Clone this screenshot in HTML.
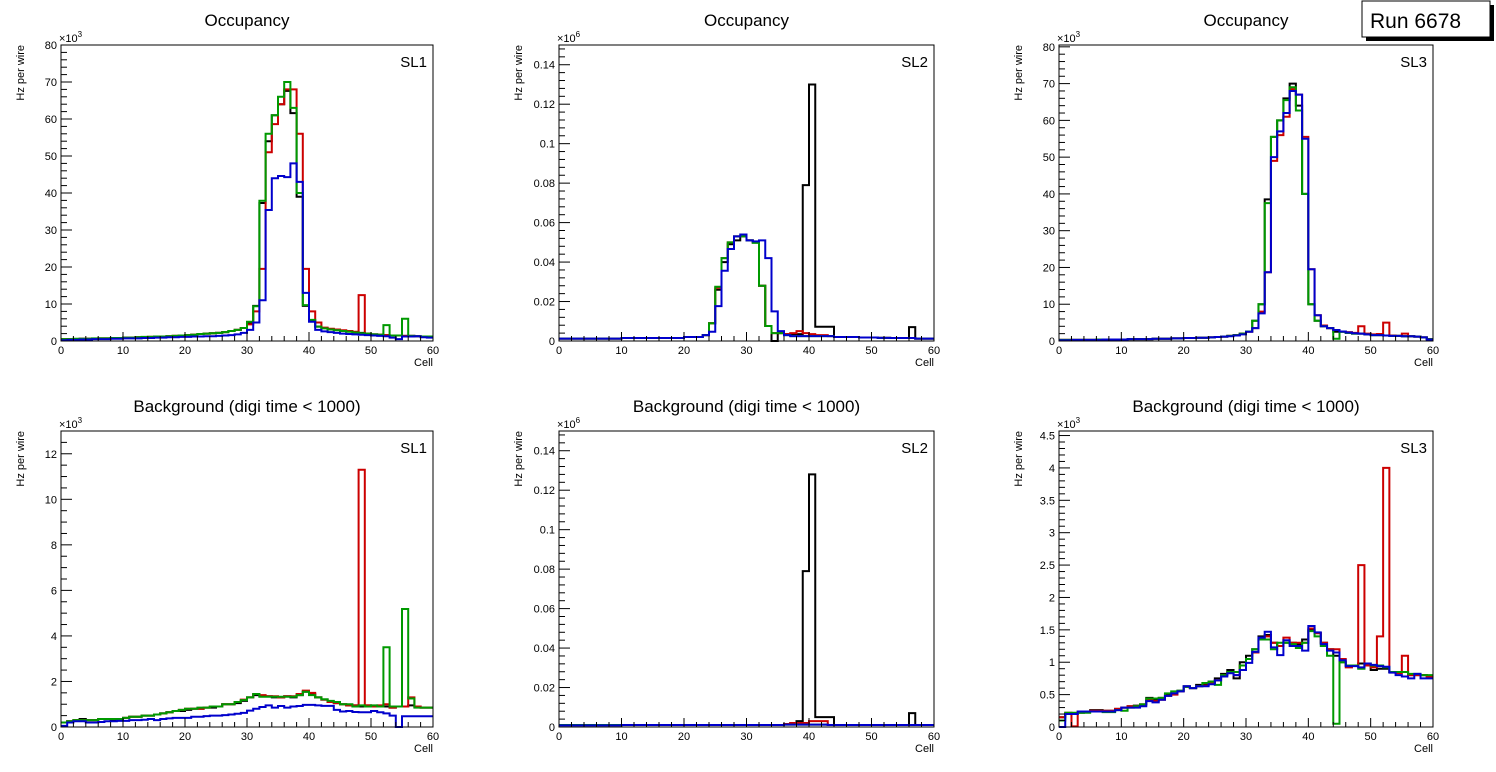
<!DOCTYPE html>
<html><head><meta charset="utf-8"><style>
body{margin:0;background:#fff;}
svg{display:block;font-family:"Liberation Sans",Arial,sans-serif;}
</style></head><body>
<svg id="c" width="1496" height="772" viewBox="0 0 1496 772">
<rect width="1496" height="772" fill="#fff"/>
<g>
<rect x="1366" y="5" width="128" height="36" fill="#000"/>
<rect x="1362" y="1" width="128" height="36" fill="#fff" stroke="#000" stroke-width="1"/>
<text x="1370" y="28" font-size="21">Run 6678</text>
</g>
</svg>
<script>
// ---- data: 60 bins per series (cells 0..59) ----
const tlBlack=[0.5,0.5,0.5,0.6,0.6,0.6,0.7,0.7,0.8,0.8,0.9,0.9,1.0,1.0,1.1,1.1,1.2,1.3,1.4,1.5,1.6,1.7,1.9,2.0,2.1,2.2,2.4,2.7,3.0,3.5,5.0,9.5,37.3,54,61,64,67.6,61.6,39,9.5,5.5,3.9,3.5,3.2,3.0,2.8,2.6,2.4,2.2,2.0,1.8,1.7,1.6,1.5,1.5,1.4,1.4,1.3,1.2,1.2];
const tlRed=[0.5,0.5,0.5,0.6,0.6,0.6,0.7,0.7,0.8,0.8,0.9,0.9,1.0,1.0,1.1,1.1,1.2,1.3,1.4,1.5,1.6,1.7,1.9,2.0,2.1,2.2,2.4,2.7,3.0,3.5,4.5,8,19.5,51,58.6,64,68,68,56,19.5,8,5,3.6,3.3,3.1,2.9,2.7,2.5,12.4,2.0,1.8,1.7,1.6,1.5,1.5,1.4,1.4,1.3,1.2,1.2];
const tlGreen=[0.5,0.5,0.6,0.6,0.6,0.7,0.7,0.7,0.8,0.8,0.9,0.9,1.0,1.1,1.1,1.2,1.2,1.3,1.4,1.5,1.6,1.7,1.9,2.0,2.1,2.2,2.4,2.7,3.0,3.5,5.2,9.4,37.9,56,61,66,70,63,40,9.7,5.7,3.9,3.4,3.1,2.9,2.7,2.5,2.3,2.1,2.0,1.8,1.7,4.3,1.5,1.5,6.0,1.4,1.3,1.2,1.2];
const tlBlue=[0.2,0.3,0.3,0.4,0.4,0.5,0.5,0.5,0.6,0.6,0.7,0.7,0.7,0.8,0.8,0.9,0.9,1.0,1.0,1.1,1.1,1.2,1.2,1.3,1.3,1.4,1.5,1.6,1.8,2.2,3.0,5.0,11,35.4,44,44.6,44.3,48,43,13,5.2,3.0,2.6,2.4,2.2,2.0,1.9,1.8,1.7,1.6,1.5,1.4,1.3,0.9,0.5,1.2,1.2,1.3,1.0,0.9];

const tmBlack=[0.0012,0.0012,0.0012,0.0012,0.0012,0.0012,0.0012,0.0012,0.0012,0.0012,0.0015,0.0015,0.0015,0.0015,0.0015,0.0015,0.0015,0.0015,0.0015,0.0015,0.002,0.002,0.002,0.003,0.009,0.026,0.040,0.049,0.051,0.053,0.051,0.050,0.028,0.0076,0,0.004,0.0035,0.0035,0.0035,0.079,0.130,0.0072,0.0072,0.0072,0.002,0.002,0.002,0.002,0.0018,0.0018,0.0018,0.0016,0.0016,0.0015,0.0015,0.0015,0.007,0.0012,0.0012,0.0012];
const tmRed=[0.0012,0.0012,0.0012,0.0012,0.0012,0.0012,0.0012,0.0012,0.0012,0.0012,0.0015,0.0015,0.0015,0.0015,0.0015,0.0015,0.0015,0.0015,0.0015,0.0015,0.002,0.002,0.002,0.003,0.009,0.027,0.042,0.050,0.053,0.053,0.051,0.050,0.028,0.0076,0.004,0.004,0.0035,0.004,0.005,0.004,0.0035,0.003,0.003,0.0025,0.002,0.002,0.002,0.002,0.0018,0.0018,0.0018,0.0016,0.0016,0.0015,0.0015,0.0015,0.0015,0.0012,0.0012,0.0012];
const tmGreen=[0.0012,0.0012,0.0012,0.0012,0.0012,0.0012,0.0012,0.0012,0.0012,0.0012,0.0015,0.0015,0.0015,0.0015,0.0015,0.0015,0.0015,0.0015,0.0015,0.0015,0.002,0.002,0.002,0.003,0.009,0.0275,0.042,0.050,0.053,0.053,0.051,0.0497,0.028,0.0076,0.004,0.004,0.003,0.0025,0.0025,0.0025,0.0025,0.0025,0.0025,0.0025,0.002,0.002,0.002,0.002,0.0018,0.0018,0.0018,0.0016,0.0016,0.0015,0.0015,0.0015,0.0015,0.0012,0.0012,0.0012];
const tmBlue=[0.0012,0.0012,0.0012,0.0012,0.0012,0.0012,0.0012,0.0012,0.0012,0.0012,0.0015,0.0015,0.0015,0.0015,0.0015,0.0015,0.0015,0.0015,0.0015,0.0015,0.002,0.002,0.002,0.003,0.0047,0.0177,0.0356,0.0466,0.053,0.054,0.051,0.0505,0.051,0.042,0.015,0.005,0.003,0.0025,0.0025,0.0025,0.0025,0.0025,0.0025,0.0025,0.002,0.002,0.002,0.002,0.0018,0.0018,0.0018,0.0016,0.0016,0.0015,0.0015,0.0015,0.0015,0.0012,0.0012,0.0012];

const trBlack=[0.3,0.3,0.3,0.3,0.3,0.3,0.4,0.4,0.4,0.4,0.4,0.5,0.5,0.5,0.5,0.6,0.6,0.6,0.7,0.7,0.8,0.8,0.9,0.9,1.0,1.1,1.2,1.4,1.6,2.0,2.6,5.5,10,38.5,55.5,60,66,70,64,40,10,5.5,4.0,3.5,2.5,2.5,2.2,2.0,2.0,1.8,1.6,1.6,1.5,1.4,1.4,1.3,1.3,1.2,1.0,0.5];
const trRed=[0.3,0.3,0.3,0.3,0.3,0.3,0.4,0.4,0.4,0.4,0.4,0.5,0.5,0.5,0.5,0.6,0.6,0.6,0.7,0.7,0.8,0.8,0.9,0.9,1.0,1.1,1.2,1.4,1.6,2.0,2.5,3.5,8,18.7,49,56,61,68.5,67,55.5,19.5,7,4.2,3.5,3,2.6,2.4,2.2,4,2.0,1.8,1.9,5,1.5,1.4,2,1.3,1.2,1.0,0.5];
const trGreen=[0.3,0.3,0.3,0.3,0.3,0.3,0.4,0.4,0.4,0.4,0.4,0.5,0.5,0.5,0.5,0.6,0.6,0.6,0.7,0.7,0.8,0.8,0.9,0.9,1.0,1.1,1.2,1.4,1.6,2.0,2.6,5.5,10,37.5,55.5,60,65.5,69,62.7,40,10,5.5,4.0,3.5,0.6,2.5,2.2,2.0,2.0,1.8,1.6,1.6,1.5,1.4,1.4,1.3,1.3,1.2,1.0,0.5];
const trBlue=[0.2,0.2,0.3,0.3,0.3,0.3,0.3,0.4,0.4,0.4,0.4,0.5,0.5,0.5,0.5,0.6,0.6,0.6,0.7,0.7,0.8,0.8,0.9,0.9,1.0,1.1,1.2,1.3,1.5,1.8,2.5,3.5,7.5,18.7,50,57,62,68,67,55,19.5,7,4,3.5,3,2.6,2.3,2.1,2.0,1.8,1.6,1.6,1.5,1.4,1.4,1.3,1.3,1.2,1.0,0.4];

const blBlack=[0.2,0.25,0.3,0.35,0.3,0.3,0.35,0.35,0.3,0.35,0.4,0.45,0.45,0.5,0.5,0.55,0.6,0.65,0.7,0.7,0.75,0.8,0.8,0.85,0.85,0.9,1.0,1.0,1.05,1.15,1.3,1.4,1.35,1.35,1.3,1.3,1.35,1.3,1.4,1.55,1.45,1.3,1.2,1.1,1.05,1.0,0.95,0.95,0.9,0.95,0.9,0.9,0.9,0.85,0.9,0.9,0.95,0.9,0.85,0.85];
const blRed=[0.2,0.25,0.3,0.3,0.3,0.3,0.35,0.35,0.35,0.35,0.4,0.45,0.45,0.5,0.5,0.55,0.6,0.65,0.7,0.75,0.8,0.8,0.8,0.85,0.9,0.9,1.0,1.0,1.1,1.2,1.3,1.45,1.4,1.35,1.35,1.3,1.35,1.35,1.45,1.6,1.5,1.3,1.2,1.1,1.05,1.0,0.95,0.95,11.3,0.95,0.9,0.95,1.0,0.85,0.9,0.9,1.3,0.9,0.85,0.85];
const blGreen=[0.2,0.25,0.3,0.3,0.3,0.3,0.35,0.35,0.35,0.35,0.4,0.45,0.45,0.5,0.5,0.55,0.6,0.65,0.7,0.75,0.8,0.8,0.85,0.85,0.9,0.9,1.0,1.0,1.1,1.18,1.3,1.45,1.33,1.33,1.33,1.33,1.33,1.33,1.4,1.55,1.4,1.3,1.22,1.15,1.1,1.0,1.0,0.9,0.95,0.9,0.95,0.9,3.5,0.9,0.9,5.18,1.25,0.85,0.85,0.85];
const blBlue=[0.05,0.2,0.25,0.25,0.2,0.2,0.22,0.25,0.25,0.27,0.27,0.3,0.3,0.32,0.35,0.3,0.35,0.38,0.4,0.4,0.4,0.45,0.45,0.48,0.5,0.5,0.52,0.55,0.58,0.62,0.72,0.8,0.88,0.95,0.85,0.92,0.85,0.9,0.92,0.97,0.97,0.95,0.93,0.93,0.75,0.68,0.7,0.66,0.65,0.65,0.7,0.65,0.6,0.5,0.0,0.47,0.47,0.47,0.47,0.47];

const bmBlack=[0.001,0.001,0.001,0.001,0.001,0.001,0.001,0.001,0.001,0.001,0.001,0.001,0.001,0.001,0.001,0.001,0.001,0.001,0.001,0.001,0.001,0.001,0.001,0.001,0.001,0.001,0.001,0.001,0.001,0.001,0.001,0.001,0.001,0.001,0.001,0.001,0.0015,0.002,0.003,0.079,0.128,0.005,0.005,0.005,0.001,0.001,0.001,0.001,0.001,0.001,0.001,0.001,0.001,0.001,0.001,0.001,0.007,0.001,0.001,0.001];
const bmRed=[0.001,0.001,0.001,0.001,0.001,0.001,0.001,0.001,0.001,0.001,0.001,0.001,0.001,0.001,0.001,0.001,0.001,0.001,0.001,0.001,0.001,0.001,0.001,0.001,0.001,0.001,0.001,0.001,0.001,0.001,0.001,0.001,0.001,0.001,0.001,0.001,0.0015,0.002,0.002,0.002,0.003,0.003,0.003,0.001,0.001,0.001,0.001,0.001,0.001,0.001,0.001,0.001,0.001,0.001,0.001,0.001,0.001,0.001,0.001,0.001];
const bmGreen=[0.001,0.001,0.001,0.001,0.001,0.001,0.001,0.001,0.001,0.001,0.001,0.001,0.001,0.001,0.001,0.001,0.001,0.001,0.001,0.001,0.001,0.001,0.001,0.001,0.001,0.001,0.001,0.001,0.001,0.001,0.001,0.001,0.001,0.001,0.001,0.001,0.0012,0.0012,0.0012,0.0012,0.0012,0.0012,0.0012,0.001,0.001,0.001,0.001,0.001,0.001,0.001,0.001,0.001,0.001,0.001,0.001,0.001,0.001,0.001,0.001,0.001];
const bmBlue=[0.0008,0.0008,0.0008,0.0008,0.0008,0.0008,0.0008,0.0008,0.0008,0.0008,0.001,0.001,0.001,0.001,0.001,0.001,0.001,0.001,0.001,0.001,0.001,0.001,0.001,0.001,0.001,0.001,0.001,0.001,0.001,0.001,0.001,0.001,0.001,0.001,0.001,0.001,0.0012,0.0012,0.0012,0.0012,0.0012,0.0012,0.0012,0.001,0.001,0.001,0.001,0.001,0.001,0.001,0.001,0.001,0.001,0.001,0.001,0.001,0.001,0.001,0.001,0.001];

const brBlack=[0.15,0.2,0.2,0.22,0.24,0.26,0.26,0.25,0.25,0.28,0.3,0.32,0.33,0.35,0.45,0.42,0.45,0.5,0.52,0.56,0.63,0.6,0.65,0.65,0.7,0.75,0.82,0.88,0.75,1.0,1.1,1.2,1.4,1.42,1.3,1.25,1.3,1.3,1.28,1.35,1.5,1.45,1.3,1.2,1.1,1.0,0.95,0.95,0.98,0.98,0.88,0.9,0.9,0.85,0.85,0.85,0.8,0.8,0.8,0.78];
const brRed=[0.15,0.22,0.01,0.24,0.24,0.25,0.25,0.25,0.25,0.28,0.3,0.32,0.32,0.35,0.42,0.4,0.42,0.48,0.5,0.55,0.62,0.6,0.63,0.64,0.68,0.72,0.8,0.85,0.8,0.95,1.05,1.15,1.35,1.4,1.3,1.25,1.38,1.3,1.3,1.3,1.52,1.45,1.3,1.2,1.2,1.05,0.92,0.95,2.5,0.95,0.92,1.4,4.0,0.85,0.83,1.1,0.8,0.8,0.8,0.78];
const brGreen=[0.1,0.22,0.22,0.22,0.22,0.24,0.24,0.23,0.23,0.26,0.25,0.3,0.32,0.35,0.44,0.44,0.45,0.52,0.55,0.56,0.62,0.6,0.63,0.68,0.7,0.65,0.8,0.85,0.85,0.95,1.05,1.2,1.35,1.35,1.2,1.3,1.3,1.28,1.22,1.3,1.48,1.4,1.25,1.1,0.05,1.0,0.95,0.95,0.9,0.98,0.95,0.95,0.92,0.85,0.85,0.85,0.82,0.82,0.8,0.8];
const brBlue=[0.0,0.2,0.2,0.24,0.24,0.24,0.24,0.24,0.24,0.26,0.3,0.3,0.3,0.32,0.4,0.38,0.42,0.48,0.52,0.55,0.63,0.6,0.63,0.63,0.66,0.72,0.78,0.83,0.8,0.88,0.99,1.16,1.38,1.47,1.23,1.11,1.34,1.25,1.25,1.18,1.56,1.46,1.28,1.18,1.15,1.03,0.94,0.94,0.92,0.98,0.96,0.94,0.93,0.84,0.8,0.78,0.75,0.82,0.75,0.75];

const xTicks=[0,10,20,30,40,50,60];
const colors=['#000000','#cc0000','#009900','#0000cc'];

const panels=[
 {name:'sl1-occupancy',title:'Occupancy',sl:'SL1',x0:61,x1:433,y0:45,y1:341,ymax:80,major:10,minor:2,exp:'×10',expSup:'3',labels:['0','10','20','30','40','50','60','70','80'],series:[tlBlack,tlRed,tlGreen,tlBlue]},
 {name:'sl2-occupancy',title:'Occupancy',sl:'SL2',x0:559,x1:934,y0:45,y1:341,ymax:0.15,major:0.02,minor:0.004,exp:'×10',expSup:'6',labels:['0','0.02','0.04','0.06','0.08','0.1','0.12','0.14'],series:[tmBlack,tmRed,tmGreen,tmBlue]},
 {name:'sl3-occupancy',title:'Occupancy',sl:'SL3',x0:1059,x1:1433,y0:45,y1:341,ymax:80.5,major:10,minor:2,exp:'×10',expSup:'3',labels:['0','10','20','30','40','50','60','70','80'],series:[trBlack,trRed,trGreen,trBlue]},
 {name:'sl1-background',title:'Background (digi time < 1000)',sl:'SL1',x0:61,x1:433,y0:431,y1:727,ymax:13,major:2,minor:0.5,exp:'×10',expSup:'3',labels:['0','2','4','6','8','10','12'],series:[blBlack,blRed,blGreen,blBlue]},
 {name:'sl2-background',title:'Background (digi time < 1000)',sl:'SL2',x0:559,x1:934,y0:431,y1:727,ymax:0.15,major:0.02,minor:0.004,exp:'×10',expSup:'6',labels:['0','0.02','0.04','0.06','0.08','0.1','0.12','0.14'],series:[bmBlack,bmRed,bmGreen,bmBlue]},
 {name:'sl3-background',title:'Background (digi time < 1000)',sl:'SL3',x0:1059,x1:1433,y0:431,y1:727,ymax:4.57,major:0.5,minor:0.1,exp:'×10',expSup:'3',labels:['0','0.5','1','1.5','2','2.5','3','3.5','4','4.5'],series:[brBlack,brRed,brGreen,brBlue]}
];
const NS='http://www.w3.org/2000/svg';
const svg=document.getElementById('c');
const runLabel=svg.lastElementChild;
function mk(tag,attrs,parent){const e=document.createElementNS(NS,tag);for(const k in attrs)e.setAttribute(k,attrs[k]);parent.appendChild(e);return e;}
const seriesNames=['series-black','series-red','series-green','series-blue'];
panels.forEach(p=>{
 const g=mk('g',{},svg);
 
 
 const X=v=>p.x0+(p.x1-p.x0)*v/60;
 const Y=v=>p.y1-(p.y1-p.y0)*Math.min(v,p.ymax)/p.ymax;
 const t=mk('text',{x:(p.x0+p.x1)/2,y:p.y0-19,'font-size':17,'text-anchor':'middle'},g);t.textContent=p.title;
 
 
 p.series.forEach((s,i)=>{
  let d='M'+X(0)+','+Y(s[0]);
  for(let b=0;b<s.length;b++){d+=' H'+X(b+1);if(b+1<s.length)d+=' V'+Y(s[b+1]);}
  const path=mk('path',{d:d,fill:'none',stroke:colors[i],'stroke-width':2,'stroke-linejoin':'miter'},g);
  
  
 });
 const fr=mk('rect',{x:p.x0,y:p.y0,width:p.x1-p.x0,height:p.y1-p.y0,fill:'none',stroke:'#000','stroke-width':1},g);
 
 
 for(let v=0;v<=60;v+=2){const big=v%10===0;mk('line',{x1:X(v),x2:X(v),y1:p.y1,y2:p.y1-(big?9:5),stroke:'#000','stroke-width':1},g);}
 xTicks.forEach(v=>{const tl=mk('text',{x:X(v),y:p.y1+13,'font-size':11,'text-anchor':'middle'},g);tl.textContent=String(v);
  
  });
 const xl=mk('text',{x:p.x1,y:p.y1+25,'font-size':11,'text-anchor':'end'},g);xl.textContent='Cell';
 
 
 const nMinor=Math.floor(p.ymax/p.minor+1e-6);
 for(let k=0;k<=nMinor;k++){const v=k*p.minor;const big=Math.abs(v/p.major-Math.round(v/p.major))<1e-6;mk('line',{x1:p.x0,x2:p.x0+(big?11:6),y1:Y(v),y2:Y(v),stroke:'#000','stroke-width':1},g);}
 p.labels.forEach((lab,k)=>{const yl=mk('text',{x:p.x0-4,y:Y(k*p.major)+4,'font-size':11,'text-anchor':'end'},g);yl.textContent=lab;
  
  });
 const ex=mk('text',{x:p.x0-2,y:p.y0-3,'font-size':11},g);ex.textContent=p.exp;
 
 
 const sup=mk('tspan',{dy:-5,'font-size':8},ex);sup.textContent=p.expSup;
 const yt=mk('text',{x:0,y:0,'font-size':11,'text-anchor':'end',transform:'translate('+(p.x0-37)+','+(p.y0)+') rotate(-90)'},g);yt.textContent='Hz per wire';
 
 
 const sl=mk('text',{x:p.x1-6,y:p.y0+22,'font-size':15,'text-anchor':'end'},g);sl.textContent=p.sl;
 
 
});
svg.appendChild(runLabel);
</script>
</body></html>
